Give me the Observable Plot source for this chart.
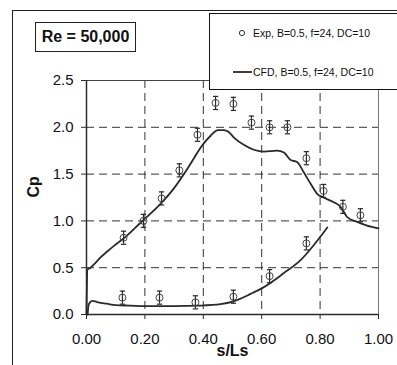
<!DOCTYPE html>
<html>
<head>
<meta charset="utf-8">
<script src="https://cdn.jsdelivr.net/npm/d3@7"></script>
<script src="https://cdn.jsdelivr.net/npm/@observablehq/plot@0.6"></script>
<style>
  html, body { margin: 0; padding: 0; background: #fff; }
  #wrap { position: relative; width: 397px; height: 365px; overflow: hidden; background: #fff; font-family: "Liberation Sans", Arial, sans-serif; }
  #outer { position: absolute; left: 12px; top: 10px; width: 420px; height: 420px; border: 1px solid #222; box-sizing: border-box; }
  #chart { position: absolute; left: 0; top: 0; }
  #re { position: absolute; left: 35px; top: 22px; width: 101px; height: 30px; border: 1px solid #222; box-sizing: border-box; background: #fff;
        font-weight: bold; font-size: 16px; line-height: 28px; text-align: center; color: #111; }
  #legend { position: absolute; left: 209px; top: 13px; width: 200px; height: 77px; border: 1.5px solid #111; box-sizing: border-box; background: #fff; }
</style>
</head>
<body>
<div id="wrap">
  <div id="outer"></div>
  <div id="chart"></div>
  <div id="re">Re = 50,000</div>
  <div id="legend"></div>
</div>
<script>
// Experimental data (s/Ls, Cp)
const expUpperS  = [0.127, 0.195, 0.257, 0.318, 0.380, 0.442, 0.503, 0.565, 0.627, 0.688, 0.753, 0.812, 0.878, 0.938];
const expUpperCp = [0.82, 1.00, 1.24, 1.54, 1.92, 2.26, 2.25, 2.05, 2.00, 2.00, 1.67, 1.32, 1.15, 1.06];
const expLowerS  = [0.123, 0.250, 0.373, 0.503, 0.627, 0.753];
const expLowerCp = [0.18, 0.18, 0.13, 0.19, 0.41, 0.76];
const expErr = 0.07;

// CFD curves
const cfdUpperS  = [0, 0.003, 0.014, 0.03, 0.048, 0.07, 0.093, 0.134, 0.185, 0.25, 0.30, 0.34, 0.37, 0.39, 0.425, 0.45, 0.47, 0.487, 0.505, 0.54, 0.573, 0.608, 0.653, 0.676, 0.699, 0.721, 0.744, 0.767, 0.79, 0.812, 0.847, 0.87, 0.893, 0.927, 0.961, 1.0];
const cfdUpperCp = [0.0, 0.48, 0.50, 0.55, 0.61, 0.67, 0.73, 0.83, 0.98, 1.17, 1.35, 1.53, 1.68, 1.78, 1.91, 1.97, 1.97, 1.95, 1.89, 1.81, 1.76, 1.74, 1.75, 1.73, 1.65, 1.63, 1.52, 1.40, 1.29, 1.25, 1.20, 1.15, 1.04, 0.99, 0.95, 0.92];
const cfdLowerS  = [0.004, 0.007, 0.012, 0.02, 0.04, 0.07, 0.10, 0.15, 0.20, 0.30, 0.39, 0.459, 0.503, 0.562, 0.606, 0.675, 0.733, 0.778, 0.825];
const cfdLowerCp = [0.0, 0.10, 0.13, 0.145, 0.13, 0.115, 0.10, 0.095, 0.09, 0.09, 0.095, 0.11, 0.14, 0.22, 0.29, 0.44, 0.58, 0.74, 0.93];

const xTicks = [0, 0.2, 0.4, 0.6, 0.8, 1.0];
const yTicks = [0, 0.5, 1.0, 1.5, 2.0, 2.5];
const xGrid = [0.2, 0.4, 0.6, 0.8];
const yGrid = [0.5, 1.0, 1.5, 2.0];

const legendExp = "Exp, B=0.5, f=24, DC=10";
const legendCfd = "CFD, B=0.5, f=24, DC=10";

const exp = expUpperS.map((s, i) => ({s, cp: expUpperCp[i]}))
  .concat(expLowerS.map((s, i) => ({s, cp: expLowerCp[i]})));
const cfdU = cfdUpperS.map((s, i) => ({s, cp: cfdUpperCp[i]}));
const cfdL = cfdLowerS.map((s, i) => ({s, cp: cfdLowerCp[i]}));

const hline = { draw(ctx, size) { const r = Math.sqrt(size) / 2; ctx.moveTo(-r, 0); ctx.lineTo(r, 0); } };
const ink = "#2a2a2a";

const chart = Plot.plot({
  width: 397,
  height: 365,
  marginLeft: 86,
  marginRight: 19,
  marginTop: 80,
  marginBottom: 51,
  style: { background: "transparent", fontFamily: "Liberation Sans, Arial, sans-serif", fontSize: "15px", color: "#111" },
  x: { domain: [0, 1], label: null },
  y: { domain: [0, 2.5], label: null },
  marks: [
    Plot.gridX(xGrid, { stroke: "#111", strokeOpacity: 0.85, strokeDasharray: "8,5" }),
    Plot.gridY(yGrid, { stroke: "#111", strokeOpacity: 0.85, strokeDasharray: "8,5" }),
    Plot.ruleY([2.5], { stroke: "#444", strokeWidth: 1 }),
    Plot.ruleX([1.0], { stroke: "#777", strokeWidth: 1 }),
    Plot.ruleX([0], { stroke: ink, strokeWidth: 1.5 }),
    Plot.ruleY([0], { stroke: ink, strokeWidth: 1.5 }),
    Plot.axisX({ ticks: xTicks, tickFormat: d3.format(".2f"), tickSize: 5, tickPadding: 14, label: null, stroke: ink }),
    Plot.axisY({ ticks: yTicks, tickFormat: d3.format(".1f"), tickSize: 5, tickPadding: 8, label: null, stroke: ink }),
    Plot.line(cfdU, { x: "s", y: "cp", stroke: ink, strokeWidth: 1.8, curve: "monotone-x" }),
    Plot.line(cfdL, { x: "s", y: "cp", stroke: ink, strokeWidth: 1.8, curve: "monotone-x" }),
    Plot.ruleX(exp, { x: "s", y1: d => d.cp - expErr, y2: d => d.cp + expErr, stroke: ink, strokeWidth: 1.2 }),
    Plot.dot(exp, { x: "s", y: d => d.cp - expErr, symbol: hline, r: 3, stroke: ink, strokeWidth: 1.2 }),
    Plot.dot(exp, { x: "s", y: d => d.cp + expErr, symbol: hline, r: 3, stroke: ink, strokeWidth: 1.2 }),
    Plot.dot(exp, { x: "s", y: "cp", r: 3.5, stroke: "#444", strokeWidth: 1, fill: "none" }),
    Plot.text(["s/Ls"], { frameAnchor: "bottom", dy: 41, fontWeight: "bold", fontSize: 16, fill: "#111" }),
    Plot.text(["Cp"], { frameAnchor: "left", dx: -53, rotate: -90, fontWeight: "bold", fontSize: 16, fill: "#111" })
  ]
});
document.getElementById("chart").appendChild(chart);

// Legend
const lg = d3.select("#legend").append("svg").attr("width", 200).attr("height", 77)
  .style("position", "absolute").style("left", "-1.5px").style("top", "-1.5px")
  .style("font-family", "Liberation Sans, Arial, sans-serif").style("font-size", "10.5px");
lg.append("circle").attr("cx", 33).attr("cy", 20).attr("r", 2.6).attr("fill", "none").attr("stroke", "#333").attr("stroke-width", 1);
lg.append("text").attr("x", 44).attr("y", 24).attr("fill", "#111").text(legendExp);
lg.append("line").attr("x1", 24).attr("x2", 43).attr("y1", 59).attr("y2", 59).attr("stroke", ink).attr("stroke-width", 1.8);
lg.append("text").attr("x", 44).attr("y", 63).attr("fill", "#111").text(legendCfd);
</script>
</body>
</html>
